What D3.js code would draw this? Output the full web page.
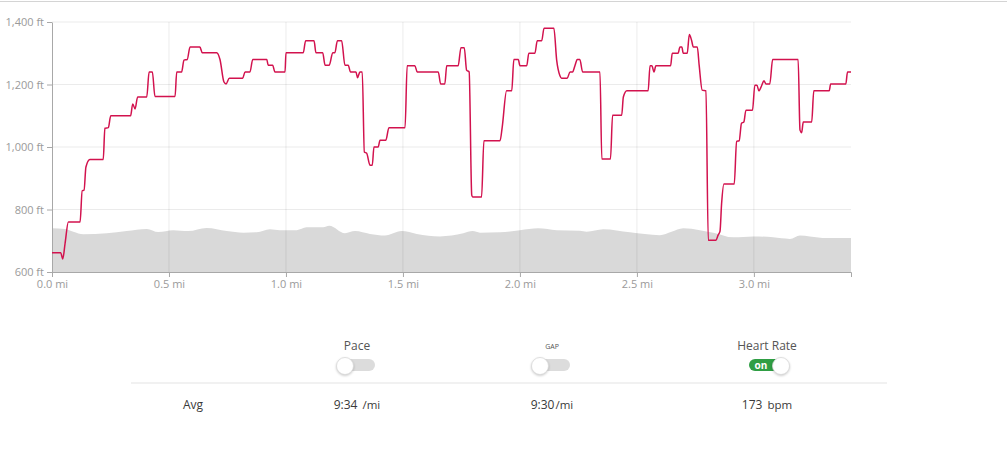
<!DOCTYPE html>
<meta charset="utf-8">
<head>
<title>Elevation and heart rate</title>
<script src="https://d3js.org/d3.v7.min.js"></script>
<style>
  body { margin: 0; background: #fff; font-family: "Open Sans", sans-serif; }
  .axis text { fill: #9a9a9a; font-size: 11px; font-family: "Open Sans", sans-serif; }
  .axis path, .axis line { stroke: #a8a8a8; }
  .lbl { fill: #555; font-size: 12px; }
  .val { fill: #3a3a3a; font-size: 12px; }
</style>
</head>
<body>
<div id="chart"></div>
<script>
// heart rate trace (distance in miles, bpm)
var hrMiles = [0, 0.037, 0.046, 0.056, 0.070, 0.120, 0.129, 0.137, 0.145, 0.162, 0.219, 0.226, 0.241, 0.251,
  0.336, 0.345, 0.355, 0.366, 0.405, 0.415, 0.429, 0.440, 0.526, 0.533, 0.554, 0.564, 0.578, 0.590, 0.632,
  0.642, 0.704, 0.718, 0.735, 0.744, 0.758, 0.815, 0.825, 0.846, 0.858, 0.918, 0.924, 0.943, 0.953, 0.996,
  1.000, 1.074, 1.084, 1.120, 1.128, 1.157, 1.167, 1.185, 1.200, 1.209, 1.220, 1.238, 1.252, 1.266, 1.276,
  1.299, 1.306, 1.316, 1.326, 1.335, 1.345, 1.359, 1.369, 1.376, 1.394, 1.402, 1.427, 1.440, 1.509, 1.518,
  1.551, 1.561, 1.651, 1.661, 1.679, 1.687, 1.736, 1.748, 1.762, 1.772, 1.783, 1.794, 1.798, 1.836, 1.846,
  1.915, 1.924, 1.943, 1.965, 1.974, 1.993, 2.000, 2.029, 2.038, 2.064, 2.074, 2.093, 2.103, 2.145, 2.157,
  2.171, 2.178, 2.202, 2.214, 2.225, 2.235, 2.245, 2.256, 2.268, 2.342, 2.350, 2.387, 2.396, 2.435, 2.442,
  2.457, 2.548, 2.556, 2.564, 2.573, 2.581, 2.644, 2.651, 2.676, 2.684, 2.692, 2.698, 2.715, 2.724, 2.734,
  2.741, 2.758, 2.766, 2.779, 2.795, 2.805, 2.838, 2.847, 2.855, 2.862, 2.872, 2.916, 2.926, 2.937, 2.947,
  2.957, 2.966, 2.994, 3.004, 3.013, 3.021, 3.033, 3.043, 3.051, 3.068, 3.080, 3.189, 3.197, 3.204, 3.211,
  3.247, 3.256, 3.322, 3.328, 3.393, 3.400, 3.415];
var hrBpm = [143.1, 143.1, 142.1, 144.6, 148.0, 148.0, 153.0, 153.1, 156.8, 158.0, 158.0, 163.0, 163.1, 165.0,
  165.0, 166.9, 166.1, 168.0, 168.0, 172.0, 172.0, 168.1, 168.1, 172.0, 172.0, 173.9, 174.0, 176.0, 176.0,
  175.1, 175.1, 174.0, 170.4, 170.1, 171.0, 171.0, 172.0, 172.0, 174.0, 174.0, 173.1, 173.1, 172.0, 172.0,
  175.1, 175.1, 177.0, 177.0, 175.1, 175.1, 173.1, 173.1, 175.1, 175.1, 177.0, 177.0, 173.1, 173.1, 172.0,
  172.0, 171.1, 172.0, 172.0, 159.2, 159.0, 157.1, 157.1, 160.0, 160.0, 161.1, 161.1, 163.1, 163.1, 173.0,
  173.0, 172.0, 172.0, 170.1, 170.1, 173.0, 173.0, 175.9, 175.9, 172.3, 172.0, 152.3, 152.0, 152.0, 161.0,
  161.0, 163.1, 169.0, 169.0, 174.0, 174.0, 173.0, 173.0, 175.0, 175.0, 177.0, 177.0, 179.0, 179.0, 173.9,
  171.4, 171.0, 171.0, 172.0, 172.0, 173.0, 174.0, 174.0, 172.0, 172.0, 158.1, 158.1, 165.1, 165.1, 168.0,
  169.0, 169.0, 173.0, 173.0, 172.0, 173.0, 173.0, 175.0, 175.0, 176.0, 176.0, 175.0, 175.0, 178.0, 177.0,
  176.0, 176.0, 173.1, 169.1, 169.0, 145.1, 145.1, 145.9, 146.5, 151.0, 154.1, 154.1, 160.9, 161.0, 163.8,
  164.0, 165.9, 165.9, 169.9, 169.9, 169.0, 169.8, 170.6, 170.1, 170.1, 174.0, 174.0, 162.7, 162.3, 164.0,
  164.0, 169.0, 169.0, 170.1, 170.1, 172.0, 172.0];

// elevation profile (distance in miles, feet)
var elevMiles = [0, 0.056, 0.091, 0.134, 0.234, 0.319, 0.405, 0.454, 0.518, 0.582, 0.661, 0.747, 0.818, 0.875,
  0.932, 0.974, 1.046, 1.088, 1.159, 1.185, 1.252, 1.295, 1.359, 1.423, 1.494, 1.559, 1.658, 1.758, 1.798,
  1.829, 1.915, 2.000, 2.078, 2.157, 2.256, 2.285, 2.356, 2.470, 2.598, 2.648, 2.698, 2.769, 2.826, 2.912,
  2.997, 3.082, 3.154, 3.197, 3.239, 3.311, 3.415];
var elevFt = [740, 738, 729, 721, 724, 731, 738, 728, 734, 731, 741, 731, 726, 727,
  737, 734, 734, 743, 743, 748, 724, 731, 722, 717, 731, 722, 714, 724, 731,
  726, 727, 734, 740, 734, 732, 729, 737, 727, 718, 729, 740, 734, 726, 711,
  714, 711, 706, 717, 714, 709, 709];

var elevTicks = [600, 800, 1000, 1200, 1400];
var distTicks = [0, 0.5, 1.0, 1.5, 2.0, 2.5, 3.0];
var totalMiles = 3.415;

var toggles = ["Pace", "GAP", "Heart Rate"];
var toggleOn = [false, false, true];
var avgValues = ["9:34", "9:30", "173"];
var avgUnits = ["/mi", "/mi", "bpm"];
var unitGap = [5, 1, 5];

var W = 1007, H = 453;
var margin = {top: 22, left: 52, right: 156, bottom: 181};

var svg = d3.select("#chart").append("svg")
  .attr("width", W).attr("height", H);

// thin border at page top
svg.append("line")
  .attr("x1", 0).attr("x2", W).attr("y1", 1.5).attr("y2", 1.5)
  .style("stroke", "#d4d4d4");

var x = d3.scaleLinear().domain([0, totalMiles]).range([margin.left, W - margin.right]);
var y = d3.scaleLinear().domain([600, 1400]).range([H - margin.bottom, margin.top]);
var yHr = d3.scaleLinear().domain([140, 180]).range([H - margin.bottom, margin.top]);

var elev = elevMiles.map(function(m, i) { return {m: m, v: elevFt[i]}; });
var hr = hrMiles.map(function(m, i) { return {m: m, v: hrBpm[i]}; });

// elevation area
svg.append("path")
  .datum(elev)
  .attr("fill", "#d9d9d9")
  .attr("d", d3.area()
    .x(function(d) { return x(d.m); })
    .y0(y(600))
    .y1(function(d) { return y(d.v); })
    .curve(d3.curveMonotoneX));

// grid
svg.selectAll("hgrid")
  .data(elevTicks.slice(1))
  .enter().append("line")
  .attr("x1", x(0)).attr("x2", x(totalMiles))
  .attr("y1", function(d) { return y(d); })
  .attr("y2", function(d) { return y(d); })
  .style("stroke", "rgba(0,0,0,0.08)");
svg.selectAll("vgrid")
  .data(distTicks.slice(1))
  .enter().append("line")
  .attr("y1", y(600)).attr("y2", y(1400))
  .attr("x1", function(d) { return x(d); })
  .attr("x2", function(d) { return x(d); })
  .style("stroke", "rgba(0,0,0,0.08)");

// axes
svg.append("g")
  .attr("class", "axis")
  .attr("transform", "translate(" + x(0) + ",0)")
  .call(d3.axisLeft(y).tickValues(elevTicks).tickSize(5).tickSizeOuter(0).tickPadding(3)
    .tickFormat(function(d) { return d3.format(",")(d) + " ft"; }));

svg.append("g")
  .attr("class", "axis")
  .attr("transform", "translate(0," + y(600) + ")")
  .call(d3.axisBottom(x).tickValues(distTicks).tickSize(5).tickSizeOuter(5).tickPadding(3)
    .tickFormat(function(d) { return d3.format(".1f")(d) + " mi"; }));

// heart rate line
svg.append("path")
  .datum(hr)
  .attr("fill", "none")
  .attr("stroke", "#d2124e")
  .attr("stroke-width", 1.5)
  .attr("stroke-linejoin", "round")
  .attr("d", d3.line()
    .x(function(d) { return x(d.m); })
    .y(function(d) { return yHr(d.v); })
    .curve(d3.curveMonotoneX));

// toggles and averages
var colX = [357, 552, 767];
var g = svg.append("g");

toggles.forEach(function(t, i) {
  var cx = colX[i];
  g.append("text")
    .attr("class", "lbl")
    .attr("x", cx).attr("y", t == "GAP" ? 349 : 350)
    .attr("text-anchor", "middle")
    .style("font-size", t == "GAP" ? "7px" : "12px")
    .text(t);

  var on = toggleOn[i];
  g.append("rect")
    .attr("x", cx - 18).attr("y", 359)
    .attr("width", 36).attr("height", 12).attr("rx", 6)
    .attr("fill", on ? "#2f9e44" : "#dcdcdc");
  if (on) {
    g.append("text")
      .attr("x", cx - 6).attr("y", 369)
      .attr("text-anchor", "middle")
      .style("fill", "#fff").style("font-size", "10px").style("font-weight", "bold")
      .text("on");
  }
  g.append("circle")
    .attr("cx", on ? cx + 14 : cx - 12).attr("cy", 366).attr("r", 8.5)
    .attr("fill", "#fff")
    .style("stroke", "#d8d8d8").style("stroke-width", 0.8)
    .style("filter", "drop-shadow(0px 1px 1px rgba(0,0,0,0.2))");

  var v = g.append("text")
    .attr("class", "val")
    .attr("x", cx).attr("y", 409)
    .attr("text-anchor", "middle");
  v.append("tspan").text(avgValues[i]);
  v.append("tspan").attr("dx", unitGap[i]).style("font-size", "11.5px").text(avgUnits[i]);
});

g.append("line")
  .attr("x1", 131).attr("x2", 887).attr("y1", 383).attr("y2", 383)
  .style("stroke", "#e3e3e3");

g.append("text")
  .attr("class", "val")
  .attr("x", 193).attr("y", 409)
  .attr("text-anchor", "middle")
  .text("Avg");
</script>
</body>
